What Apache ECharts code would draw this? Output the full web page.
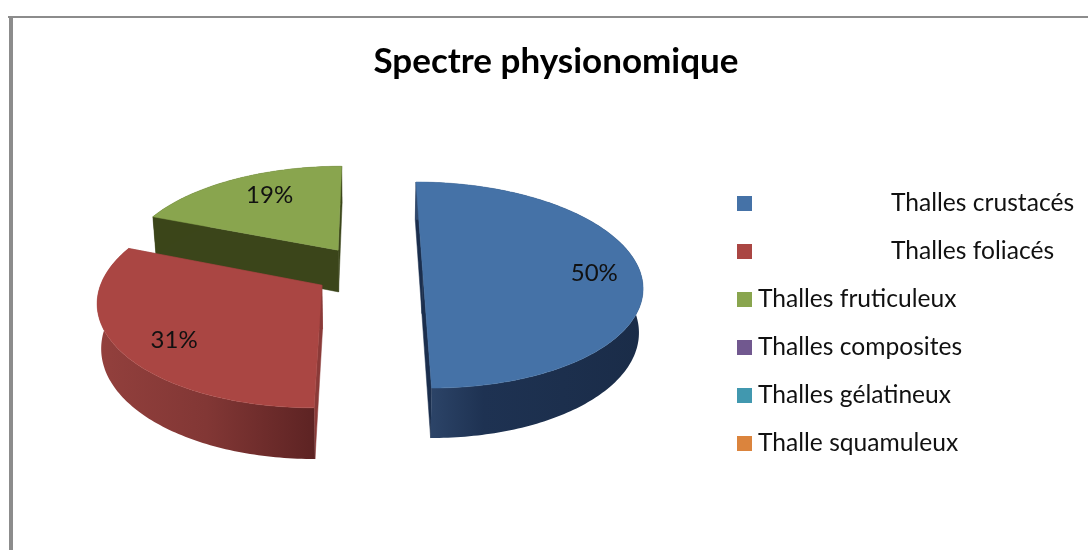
<!DOCTYPE html>
<html>
<head>
<meta charset="utf-8">
<style>html,body{margin:0;padding:0;background:#fff}#c{width:1088px;height:550px}</style>
<script src="https://cdn.jsdelivr.net/npm/echarts@6/dist/echarts.min.js"></script>
</head>
<body>
<div id="c"></div>
<script>
// ---- data ----
var categories = ['Thalles crustacés','Thalles foliacés','Thalles fruticuleux','Thalles composites','Thalles gélatineux','Thalle squamuleux'];
var shares = [50, 31, 19, 0, 0, 0];
var titleText = 'Spectre physionomique';
// ---- style ----
var topColors = ['#4572A7','#AA4643','#89A54E','#71588F','#4198AF','#DB843D'];
var wallStops = [
  [{offset:0,color:'#30496e'},{offset:0.3,color:'#1e3252'},{offset:1,color:'#1a2c48'}],
  [{offset:0,color:'#93403d'},{offset:0.5,color:'#823735'},{offset:1,color:'#5d2323'}],
  [{offset:0,color:'#3b4519'},{offset:1,color:'#3b4519'}]
];
var faceColors = ['#1b2e4d','#8a3a38','#3b451a'];
// ---- projection layout ----
var P = {cx:368, cy:270.6, rx:217, ry:101, persp:0.14, explode:0.252, depth:43, bottomX:0.985, labelR:0.8};
var labelNudge = [[-2,3],[12,5],[16,3]];
var FONT = 'Lato, "Open Sans", sans-serif';
var total = shares.reduce(function(a,b){return a+b;},0);

function project(X,Y,low){
  var s = 1/(1-P.persp*Y);
  var sx = P.cx + P.rx*X*s, sy = P.cy + P.ry*Y*s;
  if(low){ sx = P.cx + (sx-P.cx)*P.bottomX; sy += P.depth*s; }
  return [sx,sy];
}
function startShare(i){ var c=0; for(var k=0;k<i;k++) c+=shares[k]; return c; }

function renderSlice(idx){
  return function(params, api){
    var v = api.value(0);
    if(!v) return {type:'group',children:[]};
    var a0 = startShare(idx)/total*2*Math.PI, a1 = a0 + v/total*2*Math.PI, mid=(a0+a1)/2;
    var ox = Math.sin(mid)*P.explode, oy = -Math.cos(mid)*P.explode;
    var n = Math.max(8,Math.round((a1-a0)/Math.PI*180));
    var topArc=[], lowArc=[];
    for(var i=0;i<=n;i++){
      var a=a0+(a1-a0)*i/n, X=ox+Math.sin(a), Y=oy-Math.cos(a);
      topArc.push(project(X,Y,false)); lowArc.push(project(X,Y,true));
    }
    var apexT=project(ox,oy,false), apexL=project(ox,oy,true);
    var face=faceColors[idx]||topColors[idx];
    var poly=function(points,fill){
      return {type:'polygon',shape:{points:points},style:{fill:fill,stroke:fill,lineWidth:0.5},silent:true};
    };
    var wall=new echarts.graphic.LinearGradient(0,0,1,0,wallStops[idx]);
    var kids=[
      poly([apexT,topArc[0],lowArc[0],apexL],face),
      poly([apexT,topArc[n],lowArc[n],apexL],face),
      {type:'polygon',shape:{points:topArc.concat(lowArc.slice().reverse())},style:{fill:wall},silent:true},
      poly([apexT].concat(topArc),topColors[idx])
    ];
    var lp=project(ox+Math.sin(mid)*P.labelR, oy-Math.cos(mid)*P.labelR,false), nd=labelNudge[idx]||[0,0];
    kids.push({type:'text',silent:true,style:{text:Math.round(v/total*100)+'%',x:lp[0]+nd[0],y:lp[1]+nd[1],
      align:'center',verticalAlign:'middle',fill:'#111',font:'24px '+FONT}});
    return {type:'group',children:kids};
  };
}
var series = categories.map(function(name,i){
  return {
    type:'custom', name:name, coordinateSystem:'none', renderItem:renderSlice(i),
    data:[[shares[i]]], itemStyle:{color:topColors[i]}, silent:true, animation:false,
    z:[4,3,2,1,1,1][i]
  };
});
var chart = echarts.init(document.getElementById('c'),null,{renderer:'canvas'});
chart.setOption({
  backgroundColor:'#ffffff',
  animation:false,
  title:{text:titleText,left:551,top:39,textAlign:'center',textStyle:{fontFamily:FONT,fontSize:35,fontWeight:'bold',color:'#000'}},
  legend:{
    orient:'vertical',left:732,top:186,icon:'rect',itemWidth:15,itemHeight:15,itemGap:23,selectedMode:false,
    data:categories,
    formatter:function(name){ return categories.indexOf(name)<2 ? '{w|'+name+'}' : name; },
    textStyle:{fontFamily:FONT,fontSize:24.6,color:'#111',lineHeight:15,padding:[0,0,0,1],
      rich:{w:{fontFamily:FONT,fontSize:24.6,color:'#111',lineHeight:15,padding:[0,0,0,133]}}}
  },
  graphic:[
    {type:'rect',silent:true,shape:{x:8,y:16,width:1080,height:2},style:{fill:'#8c8c8c'}},
    {type:'rect',silent:true,shape:{x:9,y:16,width:4,height:534},style:{fill:'#8c8c8c'}}
  ],
  series:series
});
</script>
</body>
</html>
